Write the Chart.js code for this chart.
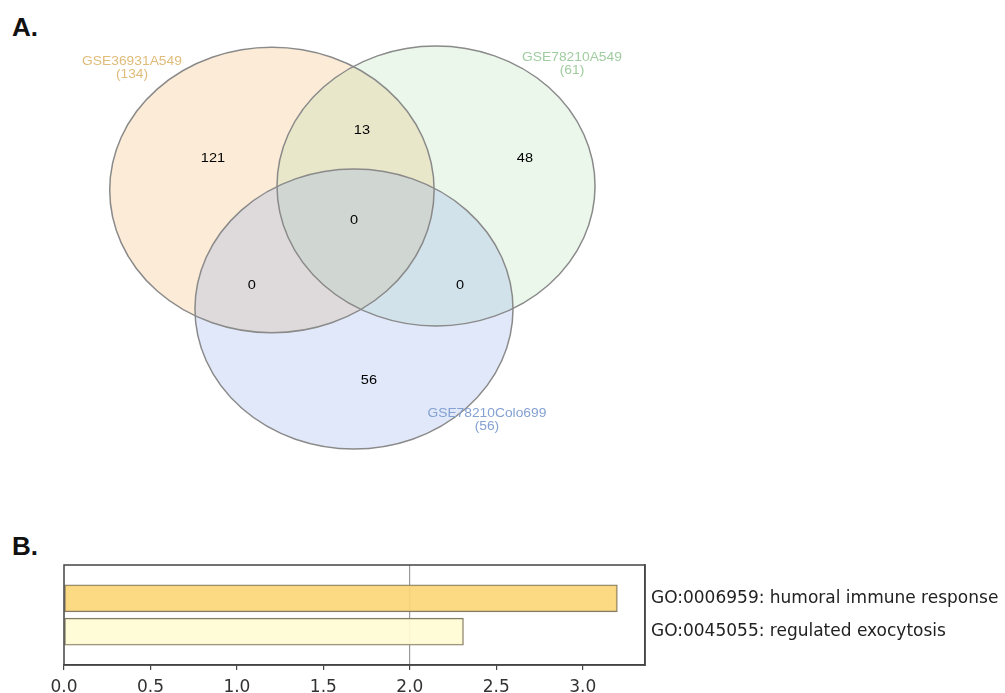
<!DOCTYPE html>
<html>
<head>
<meta charset="utf-8">
<script src="https://cdn.jsdelivr.net/npm/chart.js@4/dist/chart.umd.min.js"></script>
<style>
  html, body { margin: 0; padding: 0; background: #fff; width: 1005px; height: 693px; overflow: hidden; position: relative; }
  .panel { position: absolute; left: 12px; font: bold 26px "Liberation Sans", Arial, sans-serif; color: #111; line-height: 1; }
  #vennBox { position: absolute; left: 0; top: 0; width: 700px; height: 470px; }
  #barBox { position: absolute; left: 0; top: 540px; width: 1005px; height: 153px; }
</style>
</head>
<body>
<div class="panel" style="top:14px">A.</div>
<div class="panel" style="top:533px">B.</div>
<div id="vennBox"><canvas id="venn"></canvas></div>
<div id="barBox"><canvas id="bar"></canvas></div>
<script>
// ---- data ----
const setNames = ['GSE36931A549', 'GSE78210A549', 'GSE78210Colo699'];
const setTotals = [134, 61, 56];
// regions: A only, A&B, B only, A&B&C, A&C, B&C, C only
const regionCounts = [121, 13, 48, 0, 0, 0, 56];

const goTerms = ['GO:0006959: humoral immune response', 'GO:0045055: regulated exocytosis'];
const goScores = [3.2, 2.31];
const xTicks = [0, 0.5, 1, 1.5, 2, 2.5, 3];

// ---- venn layout (in venn units) ----
const setCircles = [
  { cx: -0.516, cy: 0.271, r: 1.02 },
  { cx: 0.516, cy: 0.30, r: 1.0 },
  { cx: 0.0, cy: -0.579, r: 1.0 }
];
const setFills = ['rgba(245,190,120,0.30)', 'rgba(150,215,150,0.20)', 'rgba(140,165,235,0.26)'];
const setTextColors = ['#e0bc7a', '#a0cda0', '#84a1d2'];
const setLabelSpots = [[-1.396, 1.186], [1.371, 1.214], [0.836, -1.329]];
const regionSpots = [[-0.887, 0.5], [0.05, 0.70], [1.075, 0.5], [0.0, 0.057], [-0.642, -0.407], [0.667, -0.407], [0.094, -1.086]];

function stretchText(ctx, txt, x, y, sx) {
  ctx.save();
  ctx.translate(x, y);
  ctx.scale(sx, 1);
  ctx.fillText(txt, 0, 0);
  ctx.restore();
}

const vennPlugin = {
  id: 'vennShapes',
  beforeDatasetsDraw(chart) {
    const { ctx, scales: { x, y } } = chart;
    const shapes = setCircles.map(c => {
      const px = x.getPixelForValue(c.cx), py = y.getPixelForValue(c.cy);
      return { px, py, rx: x.getPixelForValue(c.cx + c.r) - px, ry: py - y.getPixelForValue(c.cy + c.r) };
    });
    ctx.save();
    shapes.forEach((s, i) => {
      ctx.beginPath();
      ctx.ellipse(s.px, s.py, s.rx, s.ry, 0, 0, Math.PI * 2);
      ctx.fillStyle = setFills[i];
      ctx.fill();
    });
    ctx.strokeStyle = '#8a8a8a';
    ctx.lineWidth = 1.5;
    shapes.forEach(s => {
      ctx.beginPath();
      ctx.ellipse(s.px, s.py, s.rx, s.ry, 0, 0, Math.PI * 2);
      ctx.stroke();
    });
    ctx.restore();
  },
  afterDatasetsDraw(chart) {
    const { ctx, scales: { x, y } } = chart;
    const meta = chart.getDatasetMeta(0);
    ctx.save();
    ctx.textAlign = 'center';
    ctx.textBaseline = 'middle';
    ctx.font = '13px "Liberation Sans", Arial, sans-serif';
    ctx.fillStyle = '#000';
    meta.data.forEach((pt, i) => {
      stretchText(ctx, String(regionCounts[i]), pt.x, pt.y, 1.12);
    });
    ctx.font = '12px "Liberation Sans", Arial, sans-serif';
    setNames.forEach((name, i) => {
      const px = x.getPixelForValue(setLabelSpots[i][0]);
      const py = y.getPixelForValue(setLabelSpots[i][1]);
      ctx.fillStyle = setTextColors[i];
      stretchText(ctx, name, px, py, 1.15);
      stretchText(ctx, '(' + setTotals[i] + ')', px, py + 13, 1.15);
    });
    ctx.restore();
  }
};

new Chart(document.getElementById('venn'), {
  type: 'scatter',
  data: {
    datasets: [{
      data: regionSpots.map(p => ({ x: p[0], y: p[1] })),
      pointRadius: 0
    }]
  },
  options: {
    responsive: true,
    maintainAspectRatio: false,
    animation: false,
    layout: { padding: 0 },
    plugins: { legend: { display: false }, tooltip: { enabled: false } },
    scales: {
      x: { type: 'linear', min: -2.226, max: 2.176, display: false },
      y: { type: 'linear', min: -1.729, max: 1.629, display: false }
    }
  },
  plugins: [vennPlugin]
});

// ---- enrichment bars ----
const frame = {
  id: 'frame',
  afterDraw(chart) {
    const { ctx, chartArea: a } = chart;
    ctx.save();
    ctx.strokeStyle = '#444';
    ctx.lineWidth = 1.5;
    ctx.strokeRect(a.left, a.top, a.right - a.left, a.bottom - a.top);
    ctx.restore();
  }
};

const tickFont = { family: '"DejaVu Sans", sans-serif', size: 17 };

new Chart(document.getElementById('bar'), {
  type: 'bar',
  data: {
    datasets: [{
      data: goScores.map((v, i) => ({ x: v, y: i + 1 })),
      backgroundColor: ['rgba(252,214,120,0.92)', 'rgba(255,252,212,0.92)'],
      borderColor: '#857b63',
      borderWidth: 1.3,
      borderSkipped: false,
      barThickness: 27
    }]
  },
  options: {
    indexAxis: 'y',
    responsive: true,
    maintainAspectRatio: false,
    animation: false,
    layout: { padding: { left: 64, top: 25, right: 0, bottom: 0 } },
    plugins: { legend: { display: false }, tooltip: { enabled: false } },
    scales: {
      x: {
        type: 'linear',
        position: 'bottom',
        min: 0,
        max: 3.36,
        afterBuildTicks: s => { s.ticks = xTicks.map(v => ({ value: v })); },
        afterFit: s => { s.height = 28; },
        ticks: { callback: v => Number(v).toFixed(1), font: tickFont, color: '#333', padding: 7, maxRotation: 0 },
        grid: {
          color: c => (c.tick && c.tick.value === 2) ? '#9a9a9a' : 'rgba(0,0,0,0)',
          tickColor: '#444',
          tickLength: 5,
          lineWidth: 1.2
        },
        border: { color: '#444', width: 1.5 }
      },
      y: {
        type: 'linear',
        position: 'right',
        min: 0,
        max: 3,
        offset: false,
        reverse: true,
        afterBuildTicks: s => { s.ticks = goTerms.map((_, i) => ({ value: i + 1 })); },
        afterFit: s => { s.width = 360; },
        ticks: { callback: (v, i) => goTerms[i], font: tickFont, color: '#222', padding: 6 },
        grid: { display: false, drawTicks: false },
        border: { color: '#444', width: 1.5 }
      }
    }
  },
  plugins: [frame]
});
</script>
</body>
</html>
